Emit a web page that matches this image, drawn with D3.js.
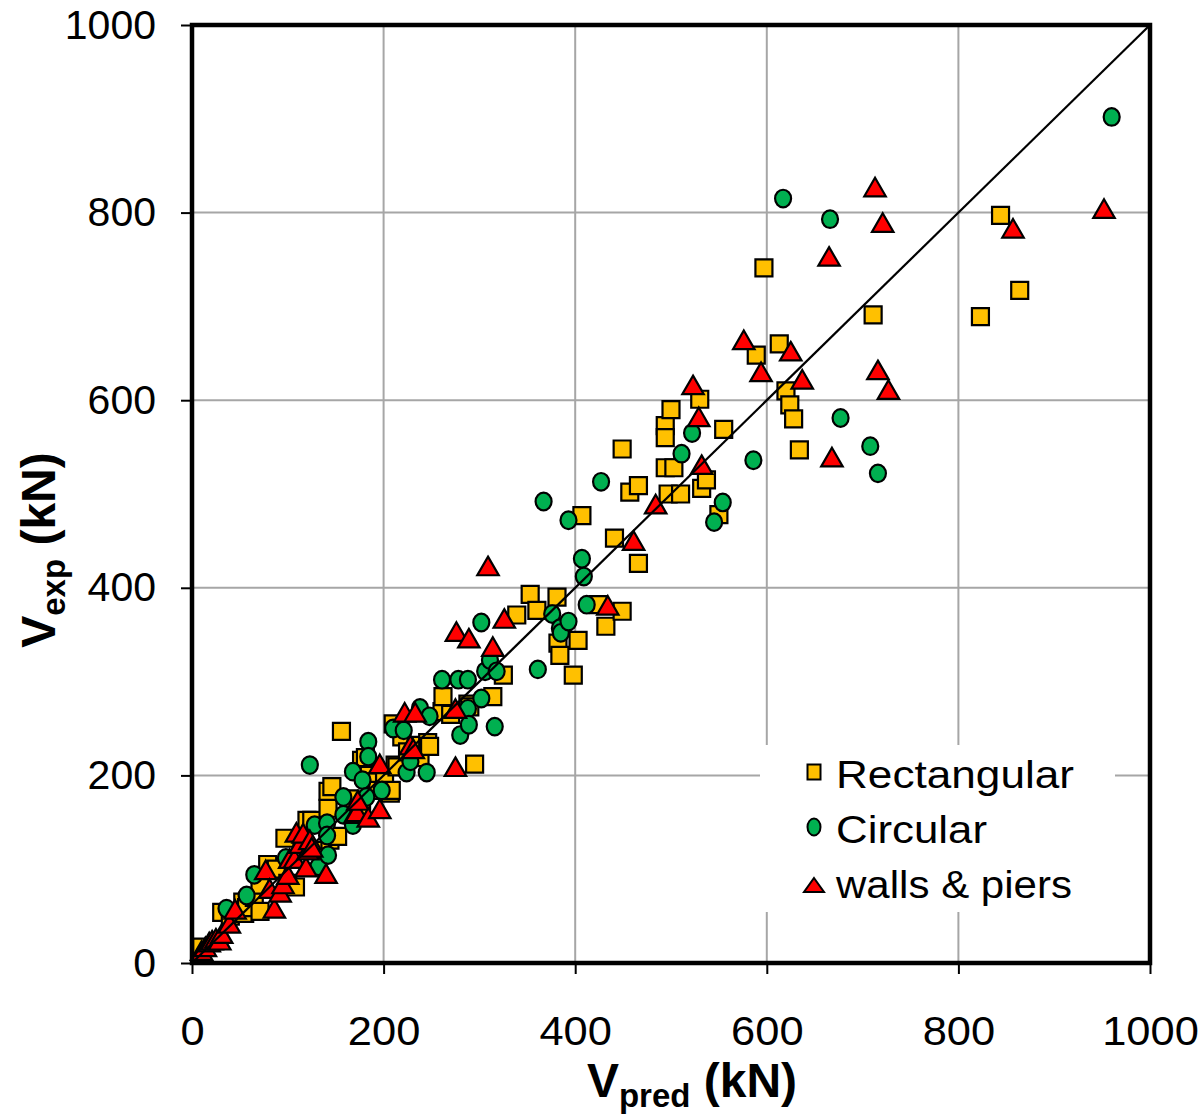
<!DOCTYPE html>
<html>
<head>
<meta charset="utf-8">
<script src="https://cdn.jsdelivr.net/npm/d3@7"></script>
<style>
  body { margin: 0; background: #fff; }
  text { font-family: "Liberation Sans", Arial, sans-serif; }
</style>
</head>
<body>
<div id="chart"></div>
<script>
// data: [Vpred, Vexp] in kN
const rectangular = [
  [10,17],[31,54],[40,50],[53,65],[55,53],[57,59],[65,70],[71,55],[71,83],[79,105],[88,100],[97,133],
  [100,85],[108,81],[120,152],[125,152],[130,120],[142,165],[142,183],[144,131],[146,188],[152,135],
  [156,247],[165,175],[177,216],[177,163],[181,219],[185,200],[193,193],[194,184],[201,199],[207,181],
  [208,184],[210,255],[212,211],[214,209],[219,241],[225,225],[234,232],[238,219],[246,235],[248,231],
  [261,268],[262,284],[270,265],[288,276],[290,273],[295,212],[314,284],[325,307],[339,371],[353,393],
  [360,376],[381,390],[382,341],[384,328],[398,307],[403,344],[407,477],[424,382],[432,359],[441,453],
  [449,375],[449,548],[457,502],[466,509],[466,426],[494,573],[494,560],[494,528],[497,500],[500,590],
  [503,528],[510,500],[530,601],[532,506],[537,515],[550,478],[555,569],[589,648],[597,741],[613,660],
  [620,610],[624,595],[628,580],[634,547],[711,691],[823,689],[844,797],[864,717]
];
const circular = [
  [36,58],[57,72],[65,94],[98,112],[123,211],[128,147],[132,103],[141,149],[141,136],[142,115],
  [158,177],[158,158],[168,204],[168,147],[178,195],[182,177],[184,236],[184,220],[198,184],[210,250],
  [221,248],[224,203],[228,215],[238,272],[245,203],[248,263],[261,302],[278,302],[280,243],[288,302],
  [288,271],[289,254],[302,363],[302,282],[306,311],[311,323],[316,252],[318,311],[361,313],[367,492],
  [376,372],[384,357],[385,352],[393,364],[393,472],[407,431],[409,412],[412,382],[427,513],[511,543],
  [522,565],[545,470],[554,491],[586,536],[617,815],[666,793],[677,581],[708,551],[716,522],[960,902]
];
const wallsPiers = [
  [10,10],[14,14],[18,19],[21,21],[25,23],[29,21],[31,28],[39,39],[45,54],[77,96],[81,76],[86,55],
  [92,72],[95,81],[100,91],[102,108],[107,108],[109,136],[113,124],[116,135],[119,99],[121,117],
  [123,128],[125,120],[140,92],[170,156],[172,158],[173,170],[184,152],[196,161],[196,209],[222,264],
  [228,229],[231,225],[233,264],[275,268],[275,206],[276,350],[289,343],[309,420],[314,334],[326,364],
  [434,378],[461,447],[484,486],[523,613],[529,579],[532,528],[576,661],[594,627],[625,649],[637,619],
  [665,750],[668,536],[713,824],[716,629],[721,786],[727,608],[857,780],[952,801]
];
const tickValues = [0, 200, 400, 600, 800, 1000];
const legendLabels = ['Rectangular', 'Circular', 'walls & piers'];

// dimensions
const width = 1202;
const height = 1115;
const plot = { left: 192, right: 1150, top: 25, bottom: 963 };

const svg = d3.select('#chart')
  .append('svg')
  .attr('width', width)
  .attr('height', height);

// scales
const xScale = d3.scaleLinear().domain([0, 1000]).range([plot.left, plot.right]);
const yScale = d3.scaleLinear().domain([0, 1000]).range([plot.bottom, plot.top]);

// gridlines
const grid = svg.append('g').attr('stroke', '#a6a6a6').attr('stroke-width', 2);
grid.selectAll('.vx')
  .data(tickValues.slice(1, -1))
  .join('line')
  .attr('x1', d => xScale(d)).attr('x2', d => xScale(d))
  .attr('y1', plot.top).attr('y2', plot.bottom);
grid.selectAll('.hy')
  .data(tickValues.slice(1, -1))
  .join('line')
  .attr('x1', plot.left).attr('x2', plot.right)
  .attr('y1', d => yScale(d)).attr('y2', d => yScale(d));

// axes
const xAxis = d3.axisBottom(xScale).tickValues(tickValues).tickFormat(d3.format('d'))
  .tickSize(11).tickPadding(42);
const yAxis = d3.axisLeft(yScale).tickValues(tickValues).tickFormat(d3.format('d'))
  .tickSize(11).tickPadding(25);

const xAxisGroup = svg.append('g')
  .attr('transform', `translate(0, ${plot.bottom})`)
  .call(xAxis);
const yAxisGroup = svg.append('g')
  .attr('transform', `translate(${plot.left}, 0)`)
  .call(yAxis);

[xAxisGroup, yAxisGroup].forEach(g => {
  g.select('.domain').remove();
  g.selectAll('.tick line').attr('stroke', '#000').attr('stroke-width', 2);
  g.selectAll('.tick text')
    .attr('fill', '#000')
    .style('font-size', '41px')
    .style('font-family', '"Liberation Sans", Arial, sans-serif');
});
xAxisGroup.selectAll('.tick text').attr('transform', 'scale(1.06,1)');

// markers
const markerSymbols = [
  { data: rectangular, type: d3.symbolSquare, size: 289, fill: '#ffc000' },
  { data: circular, type: null, fill: '#00b050' },
  { data: wallsPiers, type: d3.symbolTriangle, size: 200, fill: '#ff0000' }
];

const marks = svg.append('g');
markerSymbols.forEach(series => {
  const g = marks.append('g');
  if (series.type) {
    g.selectAll('path')
      .data(series.data)
      .join('path')
      .attr('d', d3.symbol().type(series.type).size(series.size))
      .attr('transform', d => `translate(${xScale(d[0])}, ${yScale(d[1])})`)
      .attr('fill', series.fill)
      .attr('stroke', '#000')
      .attr('stroke-width', 2.2);
  } else {
    g.selectAll('ellipse')
      .data(series.data)
      .join('ellipse')
      .attr('cx', d => xScale(d[0]))
      .attr('cy', d => yScale(d[1]))
      .attr('rx', 8)
      .attr('ry', 8.8)
      .attr('fill', series.fill)
      .attr('stroke', '#000')
      .attr('stroke-width', 2.2);
  }
});

// 1:1 line
svg.append('line')
  .attr('x1', xScale(0)).attr('y1', yScale(0))
  .attr('x2', xScale(1000)).attr('y2', yScale(1000))
  .attr('stroke', '#000')
  .attr('stroke-width', 2.2);

// frame
svg.append('rect')
  .attr('x', plot.left).attr('y', plot.top)
  .attr('width', plot.right - plot.left)
  .attr('height', plot.bottom - plot.top)
  .attr('fill', 'none')
  .attr('stroke', '#000')
  .attr('stroke-width', 4.5);

// legend
const legend = svg.append('g');
legend.append('rect')
  .attr('x', 760).attr('y', 745)
  .attr('width', 355).attr('height', 167)
  .attr('fill', '#fff');

const legendLengths = [238, 151, 236];
const legendItems = legend.selectAll('g.item')
  .data(legendLabels)
  .join('g')
  .attr('transform', (d, i) => `translate(814, ${772 + i * 55})`);

legendItems.each(function (d, i) {
  const g = d3.select(this);
  if (i === 0) {
    g.append('rect').attr('x', -6.5).attr('y', -7.5).attr('width', 13).attr('height', 15)
      .attr('fill', '#ffc000').attr('stroke', '#000').attr('stroke-width', 2);
  } else if (i === 1) {
    g.append('ellipse').attr('rx', 6.5).attr('ry', 8.5)
      .attr('fill', '#00b050').attr('stroke', '#000').attr('stroke-width', 2);
  } else {
    g.append('path').attr('d', 'M0,-8 L10,6 L-10,6 Z').attr('transform', 'translate(0,4)')
      .attr('fill', '#ff0000').attr('stroke', '#000').attr('stroke-width', 2);
  }
  g.append('text')
    .attr('x', 22)
    .attr('y', 16)
    .attr('textLength', legendLengths[i])
    .attr('lengthAdjust', 'spacingAndGlyphs')
    .style('font-size', '38px')
    .text(d);
});

// axis titles
const xTitle = svg.append('text')
  .attr('x', 692).attr('y', 1097)
  .attr('text-anchor', 'middle')
  .style('font-weight', 'bold')
  .style('font-size', '48px');
xTitle.append('tspan').text('V');
xTitle.append('tspan').attr('dy', 10).style('font-size', '33px').text('pred');
xTitle.append('tspan').attr('dy', -10).text(' (kN)');

const yTitle = svg.append('text')
  .attr('transform', 'translate(55, 550) rotate(-90)')
  .attr('text-anchor', 'middle')
  .style('font-weight', 'bold')
  .style('font-size', '48px');
yTitle.append('tspan').text('V');
yTitle.append('tspan').attr('dy', 10).style('font-size', '33px').text('exp');
yTitle.append('tspan').attr('dy', -10).text(' (kN)');
</script>
</body>
</html>
